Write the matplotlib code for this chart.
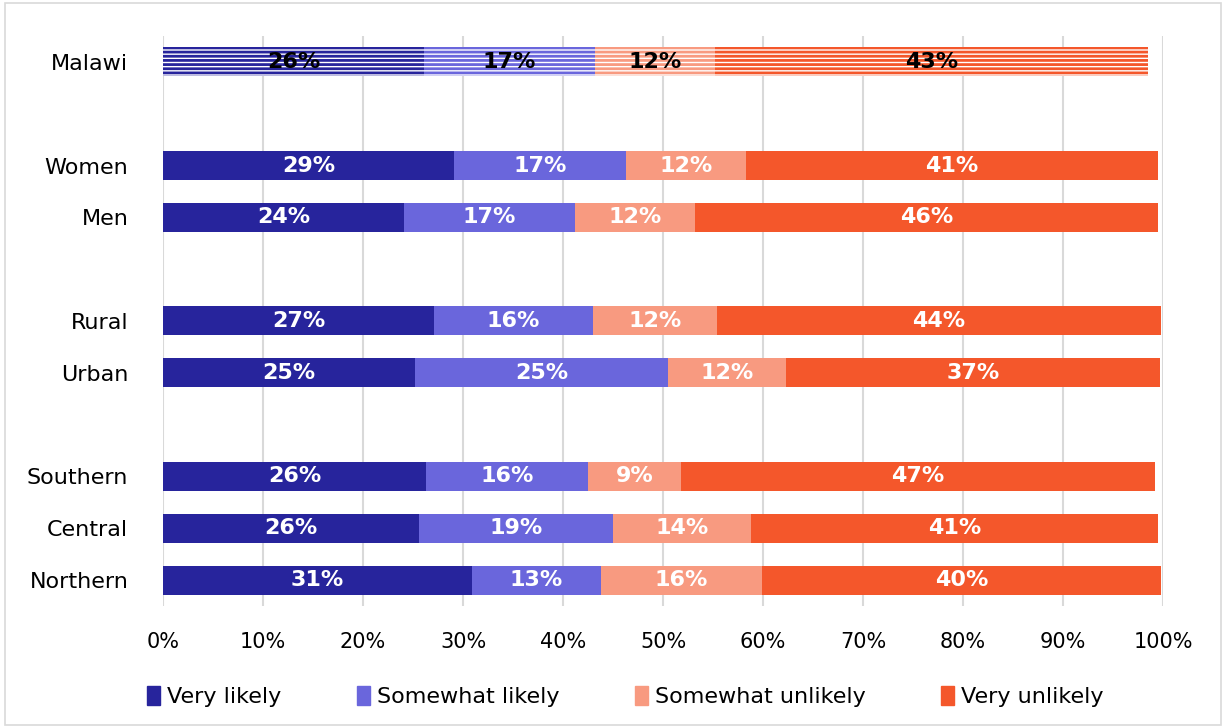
import numpy as np
import matplotlib.pyplot as plt
from matplotlib.patches import Rectangle, Patch

groups = ["Malawi", "Women", "Men", "Rural", "Urban", "Southern", "Central", "Northern"]
rows = [0, 2, 3, 5, 6, 8, 9, 10]
very_likely = [26.1, 29.1, 24.1, 27.1, 25.2, 26.3, 25.6, 30.9]
somewhat_likely = [17.1, 17.2, 17.1, 15.9, 25.3, 16.2, 19.4, 12.9]
somewhat_unlikely = [12.0, 12.0, 12.0, 12.4, 11.8, 9.3, 13.8, 16.1]
very_unlikely = [43.3, 41.2, 46.3, 44.4, 37.4, 47.4, 40.7, 39.9]
series_names = ["Very likely", "Somewhat likely", "Somewhat unlikely", "Very unlikely"]
colors = ["#27249c", "#6a66dc", "#f89a80", "#f4572b"]

plt.rcParams["hatch.linewidth"] = 2.0
fig = plt.figure(figsize=(12.26, 7.28), dpi=100)
ax = fig.add_axes([0.133, 0.1676, 0.8157, 0.783])

series = [very_likely, somewhat_likely, somewhat_unlikely, very_unlikely]
left = np.zeros(len(groups))
for vals, name, col in zip(series, series_names, colors):
    vals = np.array(vals)
    for i, (r, v) in enumerate(zip(rows, vals)):
        if i == 0:
            # national bar is drawn striped
            ax.barh(r, v, left=left[i], height=0.56, color="white", edgecolor=col,
                    hatch="----", linewidth=0, zorder=3)
            tc = "black"
        else:
            ax.barh(r, v, left=left[i], height=0.56, color=col, zorder=3)
            tc = "white"
        ax.text(left[i] + v / 2, r, f"{v:.0f}%", ha="center", va="center",
                color=tc, fontsize=16, fontweight="bold", zorder=4)
    left += vals

ax.set_yticks(rows)
ax.set_yticklabels(groups, fontsize=16)
ax.set_ylim(10.5, -0.5)
ax.set_xlim(0, 100)
ax.set_xticks(range(0, 101, 10))
ax.set_xticklabels([f"{x}%" for x in range(0, 101, 10)], fontsize=15)
ax.tick_params(length=0, axis="y", pad=25)
ax.tick_params(length=0, axis="x", pad=19)
ax.grid(axis="x", color="#d9d9d9", linewidth=1.5, zorder=0)
for s in ax.spines.values():
    s.set_visible(False)

handles = [Patch(color=c, label=n) for c, n in zip(colors, series_names)]
fig.legend(handles=handles, loc="center", bbox_to_anchor=(0.51, 0.043), ncol=4,
           frameon=False, fontsize=16, handlelength=0.6, handleheight=0.9,
           handletextpad=0.3, columnspacing=3.4)

fig.patches.append(Rectangle((0.004, 0.004), 0.992, 0.992, transform=fig.transFigure,
                             fill=False, edgecolor="#d9d9d9", linewidth=1.2))
fig.savefig("out.png", dpi=100)
